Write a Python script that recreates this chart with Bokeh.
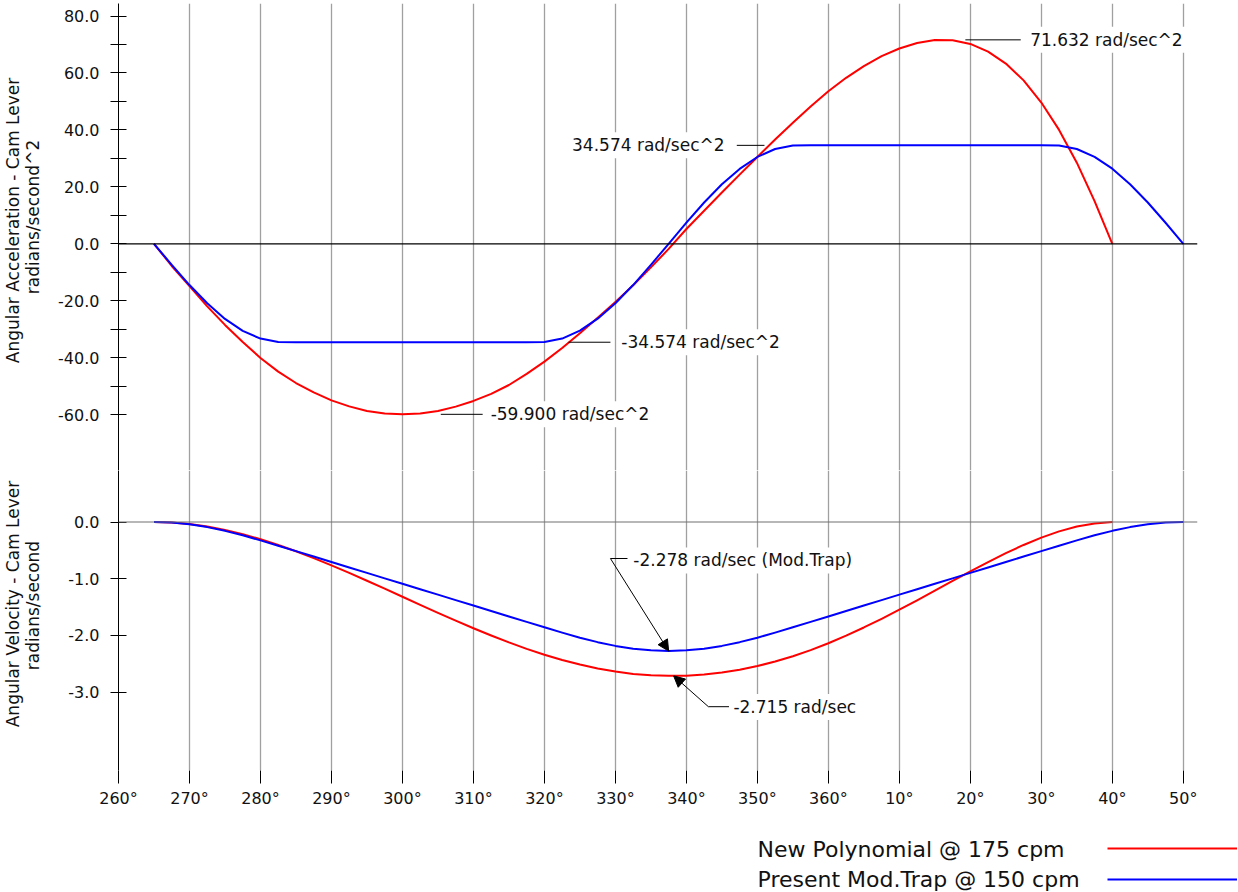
import numpy as np
from math import pi
from bokeh.plotting import figure
from bokeh.layouts import column, row
from bokeh.models import (Range1d, FixedTicker, Span, Label, Arrow, NormalHead,
                          Legend, LegendItem)
from bokeh.embed import file_html
from bokeh.resources import INLINE

# ---------------- data ----------------
angle_red = [265, 267.5, 270, 272.5, 275, 277.5, 280, 282.5, 285, 287.5,
             290, 292.5, 295, 297.5, 300, 302.5, 305, 307.5, 310, 312.5,
             315, 317.5, 320, 322.5, 325, 327.5, 330, 332.5, 335, 337.5,
             340, 342.5, 345, 347.5, 350, 352.5, 355, 357.5, 360, 362.5,
             365, 367.5, 370, 372.5, 375, 377.5, 380, 382.5, 385, 387.5,
             390, 392.5, 395, 397.5, 400]
acc_red = [0.0, -7.8, -14.9, -22.0, -28.5, -34.5, -40.1, -44.9, -48.9, -52.2,
           -55.0, -57.1, -58.7, -59.6, -59.9, -59.6, -58.7, -57.2, -55.2, -52.7,
           -49.6, -45.7, -41.4, -36.6, -31.4, -26.0, -20.4, -14.6, -8.3, -1.8,
           5.2, 11.6, 18.0, 24.3, 30.5, 36.6, 42.5, 48.2, 53.6, 58.3,
           62.4, 65.9, 68.6, 70.5, 71.6, 71.5, 70.2, 67.5, 63.3, 57.4,
           49.6, 40.0, 28.5, 15.0, 0.0]
vel_red = [0.0, -0.009, -0.036, -0.080, -0.140, -0.215, -0.304, -0.405, -0.517, -0.637,
           -0.765, -0.898, -1.036, -1.177, -1.319, -1.462, -1.602, -1.740, -1.874, -2.003,
           -2.125, -2.238, -2.342, -2.435, -2.515, -2.584, -2.639, -2.681, -2.705, -2.715,
           -2.711, -2.692, -2.657, -2.607, -2.542, -2.462, -2.368, -2.260, -2.139, -2.005,
           -1.861, -1.708, -1.547, -1.381, -1.211, -1.040, -0.872, -0.707, -0.550, -0.405,
           -0.275, -0.165, -0.080, -0.025, 0.0]

angle_blue = [265, 267.5, 270, 272.5, 275, 277.5, 280, 282.5, 285, 287.5,
              290, 292.5, 295, 297.5, 300, 302.5, 305, 307.5, 310, 312.5,
              315, 317.5, 320, 322.5, 325, 327.5, 330, 332.5, 335, 337.5,
              340, 342.5, 345, 347.5, 350, 352.5, 355, 357.5, 360, 362.5,
              365, 367.5, 370, 372.5, 375, 377.5, 380, 382.5, 385, 387.5,
              390, 392.5, 395, 397.5, 400, 402.5, 405, 407.5, 410]
acc_blue = [0.0, -7.4, -14.5, -20.9, -26.4, -30.6, -33.3, -34.5, -34.574, -34.574,
            -34.574, -34.574, -34.574, -34.574, -34.574, -34.574, -34.574, -34.574, -34.574, -34.574,
            -34.574, -34.574, -34.5, -33.3, -30.5, -26.3, -20.9, -14.5, -7.4, 0.0,
            7.4, 14.5, 20.9, 26.3, 30.5, 33.3, 34.5, 34.574, 34.574, 34.574,
            34.574, 34.574, 34.574, 34.574, 34.574, 34.574, 34.574, 34.574, 34.574, 34.574,
            34.574, 34.5, 33.3, 30.5, 26.4, 20.9, 14.5, 7.4, 0.0]
vel_blue = [0.0, -0.010, -0.041, -0.090, -0.156, -0.235, -0.324, -0.418, -0.514, -0.610,
            -0.706, -0.802, -0.898, -0.994, -1.090, -1.186, -1.282, -1.378, -1.474, -1.570,
            -1.666, -1.762, -1.858, -1.952, -2.041, -2.120, -2.186, -2.235, -2.265, -2.278,
            -2.265, -2.235, -2.186, -2.120, -2.041, -1.952, -1.858, -1.762, -1.666, -1.570,
            -1.474, -1.378, -1.282, -1.186, -1.090, -0.994, -0.898, -0.802, -0.706, -0.610,
            -0.514, -0.418, -0.324, -0.235, -0.156, -0.090, -0.041, -0.010, 0.0]

x_ticks = [260, 270, 280, 290, 300, 310, 320, 330, 340, 350, 360, 370, 380, 390, 400, 410]
x_tick_labels = ["260°", "270°", "280°", "290°", "300°", "310°", "320°", "330°",
                 "340°", "350°", "360°", "10°", "20°", "30°", "40°", "50°"]
acc_ticks = [-60, -40, -20, 0, 20, 40, 60, 80]
acc_tick_labels = ["-60.0", "-40.0", "-20.0", "0.0", "20.0", "40.0", "60.0", "80.0"]
acc_minor_ticks = [-50, -30, -10, 10, 30, 50, 70]
vel_ticks = [-3, -2, -1, 0]
vel_tick_labels = ["-3.0", "-2.0", "-1.0", "0.0"]

ACC_RED_PEAK = 71.632
ACC_BLUE_HIGH = 34.574
ACC_BLUE_LOW = -34.574
ACC_RED_LOW = -59.900
VEL_BLUE_LOW = -2.278
VEL_RED_LOW = -2.715

series_names = ["New Polynomial @ 175 cpm", "Present Mod.Trap @ 150 cpm"]
acc_title = ["Angular Acceleration - Cam Lever", "radians/second^2"]
vel_title = ["Angular Velocity - Cam Lever", "radians/second"]

# ---------------- styling / layout ----------------
FONT = "DejaVu Sans"
RED = "#ff0000"
BLUE = "#0000ff"
GRID = "#a0a0a0"
INK = "#111111"
PAGE_W = 1238
H_TOTAL = 892
TITLE_W = 50          # strip holding the vertical axis titles
W = PAGE_W - TITLE_W  # width of the chart column
BORDER_L = 68
BORDER_R = 41
TOP_H = 470
TOP_PAD = 3
BOT_FRAME_H = 300
BOT_B = 40
CHART_H = TOP_H + BOT_FRAME_H + BOT_B
LEG_H = H_TOTAL - CHART_H

x_range = Range1d(260, 412.0)
acc_range = Range1d(-79.63, 84.40)
vel_range = Range1d(-4.385, 0.909)


def bare(p):
    p.outline_line_color = None
    p.grid.visible = False


def style_yaxis(ax, ticks, labels, minor=None):
    ax.ticker = FixedTicker(ticks=ticks, minor_ticks=minor or [])
    ax.major_label_overrides = dict(zip(ticks, labels))
    ax.axis_line_color = "black"
    ax.axis_line_width = 1
    ax.major_tick_line_color = "black"
    ax.minor_tick_line_color = "black"
    ax.major_tick_in = 8
    ax.major_tick_out = 8
    ax.minor_tick_in = 8
    ax.minor_tick_out = 8
    ax.major_label_standoff = 11
    ax.major_label_text_font = FONT
    ax.major_label_text_font_size = "16px"
    ax.major_label_text_color = INK


def style_plot(p):
    p.outline_line_color = None
    p.ygrid.visible = False
    p.xgrid.ticker = FixedTicker(ticks=x_ticks)
    p.xgrid.grid_line_color = GRID
    p.xgrid.grid_line_width = 1.3


def note(p, x, y, text, align="left", size="17px"):
    p.add_layout(Label(x=x, y=y, text=text, text_align=align, text_baseline="middle",
                       text_font=FONT, text_font_size=size, text_color=INK,
                       background_fill_color="white", padding=3))


def leader(p, x0, x1, y):
    p.segment(x0=[x0], y0=[y], x1=[x1], y1=[y], line_color="black", line_width=1)


# ---------------- top: acceleration ----------------
top = figure(width=W, height=TOP_H, x_range=x_range, y_range=acc_range,
             output_backend="svg", toolbar_location=None, x_axis_location=None,
             min_border_left=BORDER_L, min_border_right=BORDER_R,
             min_border_top=TOP_PAD, min_border_bottom=0)
style_plot(top)
style_yaxis(top.yaxis[0], acc_ticks, acc_tick_labels, acc_minor_ticks)
top.add_layout(Span(location=0, dimension="width", line_color="black", line_width=1.2))

top.line(angle_red, acc_red, line_color=RED, line_width=2, line_join="round")
top.line(angle_blue, acc_blue, line_color=BLUE, line_width=2, line_join="round")

x_peak = angle_red[int(np.argmax(acc_red))]
x_red_low = angle_red[int(np.argmin(acc_red))]
x_mid = angle_blue[int(np.argmin(vel_blue))]
x_red_vlow = angle_red[int(np.argmin(vel_red))]

leader(top, x_peak + 4.3, x_peak + 12.1, ACC_RED_PEAK)
note(top, x_peak + 13.0, ACC_RED_PEAK, f"{ACC_RED_PEAK:.3f} rad/sec^2")
leader(top, x_mid + 9.6, x_mid + 13.5, ACC_BLUE_HIGH)
note(top, x_mid + 8.3, ACC_BLUE_HIGH, f"{ACC_BLUE_HIGH:.3f} rad/sec^2", align="right")
leader(top, x_mid - 14.1, x_mid - 8.2, ACC_BLUE_LOW)
note(top, x_mid - 7.1, ACC_BLUE_LOW, f"{ACC_BLUE_LOW:.3f} rad/sec^2")
leader(top, x_red_low + 5.4, x_red_low + 11.3, ACC_RED_LOW)
note(top, x_red_low + 12.0, ACC_RED_LOW, f"{ACC_RED_LOW:.3f} rad/sec^2")

# ---------------- bottom: velocity ----------------
bot = figure(width=W, height=BOT_FRAME_H + BOT_B, x_range=x_range, y_range=vel_range,
             output_backend="svg", toolbar_location=None,
             min_border_left=BORDER_L, min_border_right=BORDER_R,
             min_border_top=0, min_border_bottom=BOT_B)
style_plot(bot)
style_yaxis(bot.yaxis[0], vel_ticks, vel_tick_labels)
xa = bot.xaxis[0]
xa.ticker = FixedTicker(ticks=x_ticks)
xa.major_label_overrides = dict(zip(x_ticks, x_tick_labels))
xa.axis_line_color = None
xa.major_tick_line_color = "black"
xa.major_tick_in = 0
xa.major_tick_out = 13
xa.minor_tick_out = 0
xa.minor_tick_in = 0
xa.major_label_standoff = 5
xa.major_label_text_font = FONT
xa.major_label_text_font_size = "16px"
xa.major_label_text_color = INK
bot.add_layout(Span(location=0, dimension="width", line_color="#707070", line_width=1.2))

bot.line(angle_red, vel_red, line_color=RED, line_width=2, line_join="round")
bot.line(angle_blue, vel_blue, line_color=BLUE, line_width=2, line_join="round")

# Mod.Trap minimum
yb = VEL_BLUE_LOW + 1.634
bot.add_layout(Arrow(x_start=x_mid - 8.2, y_start=yb, x_end=x_mid, y_end=VEL_BLUE_LOW,
                     line_color="black", line_width=1,
                     end=NormalHead(size=11, fill_color="black", line_color="black")))
leader(bot, x_mid - 8.2, x_mid - 5.8, yb)
note(bot, x_mid - 5.4, VEL_BLUE_LOW + 1.60, f"{VEL_BLUE_LOW:.3f} rad/sec (Mod.Trap)")

# Polynomial minimum
yr = VEL_RED_LOW - 0.544
bot.add_layout(Arrow(x_start=x_red_vlow + 5.6, y_start=yr, x_end=x_red_vlow + 0.7, y_end=VEL_RED_LOW,
                     line_color="black", line_width=1,
                     end=NormalHead(size=11, fill_color="black", line_color="black")))
leader(bot, x_red_vlow + 5.6, x_red_vlow + 8.5, yr)
note(bot, x_red_vlow + 8.7, yr - 0.006, f"{VEL_RED_LOW:.3f} rad/sec")

# ---------------- title strip (vertical axis titles) ----------------
ttl = figure(width=TITLE_W, height=CHART_H, x_range=Range1d(0, TITLE_W),
             y_range=Range1d(0, CHART_H), output_backend="svg", toolbar_location=None,
             x_axis_location=None, y_axis_location=None,
             min_border_left=0, min_border_right=0, min_border_top=0, min_border_bottom=0)
bare(ttl)
for texts, ys in ((acc_title, (CHART_H - 220, CHART_H - 216.5)),
                  (vel_title, (CHART_H - 603.5, CHART_H - 605))):
    for t, xx, yy in zip(texts, (12.5, 32.5), ys):
        ttl.add_layout(Label(x=xx, y=yy, text=t, angle=pi / 2, text_align="center",
                             text_baseline="middle", text_font=FONT,
                             text_font_size="17px", text_color=INK))

# ---------------- legend strip (text left, line sample right) ----------------
leg = figure(width=PAGE_W, height=LEG_H, x_range=Range1d(0, PAGE_W), y_range=Range1d(0, LEG_H),
             output_backend="svg", toolbar_location=None,
             x_axis_location=None, y_axis_location=None,
             min_border_left=0, min_border_right=0, min_border_top=0, min_border_bottom=0)
bare(leg)
# the series are re-used here only to feed the legend keys; they map far outside the strip
leg.extra_x_ranges = {"off": Range1d(10000, 10001)}
leg.extra_y_ranges = {"off": Range1d(10000, 10001)}
row_y = [LEG_H - (848.5 - CHART_H), LEG_H - (879.4 - CHART_H)]
for name, yy in zip(series_names, row_y):
    leg.add_layout(Label(x=757, y=yy, text=name, text_align="left", text_baseline="middle",
                         text_font=FONT, text_font_size="22px", text_color=INK))
s_red = leg.line(angle_red, vel_red, line_color=RED, line_width=2,
                 x_range_name="off", y_range_name="off")
s_blue = leg.line(angle_blue, vel_blue, line_color=BLUE, line_width=2,
                  x_range_name="off", y_range_name="off")
legend = Legend(items=[LegendItem(label=" ", renderers=[s_red]),
                       LegendItem(label=" ", renderers=[s_blue])],
                location=(1107, LEG_H - (886.4 - CHART_H)), orientation="vertical",
                glyph_width=130, glyph_height=14, label_height=14, label_width=0,
                label_standoff=0, spacing=17, padding=0, margin=0,
                label_text_font_size="6px",
                border_line_color=None, background_fill_alpha=0)
leg.add_layout(legend)

layout = column(row(ttl, column(top, bot, spacing=0), spacing=0), leg, spacing=0)
open("out.html", "w").write(file_html(layout, INLINE))
